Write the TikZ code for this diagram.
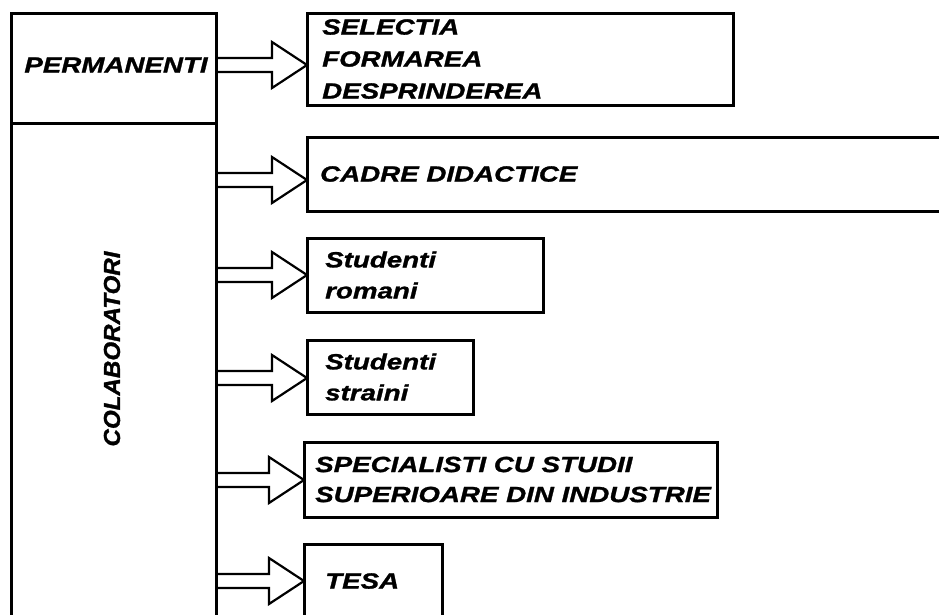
\documentclass[tikz,border=0pt]{standalone}
\usepackage{fontspec}
\newfontfamily\boxfont[FakeStretch=1.26, FakeBold=1.2]{Liberation Sans}
\newfontfamily\sidefont[FakeStretch=1.05, FakeBold=1.2]{Liberation Sans}
\usetikzlibrary{positioning,calc}

\begin{document}
\begin{tikzpicture}[
        x=1pt, y=-1pt,
        box/.style={draw, rectangle, line width=3pt, anchor=north west,
                    inner sep=0pt, outer sep=0pt},
        txt/.style={anchor=west, inner sep=0pt, align=left,
                    font=\fontsize{22}{31}\boxfont\bfseries\itshape},
        hollow/.style={draw, line width=2.2pt, line join=miter,
                    to path={($(\tikztostart)+(0,-7)$) -- ($(\tikztotarget)+(-35,-7)$)
                             -- ($(\tikztotarget)+(-35,-23)$) -- (\tikztotarget)
                             -- ($(\tikztotarget)+(-35,23)$) -- ($(\tikztotarget)+(-35,7)$)
                             -- ($(\tikztostart)+(0,7)$)}}
        ]
        \useasboundingbox (0,0) rectangle (939,614);
        \clip (0,0) rectangle (939,614);

        % left column
        \node[box, minimum width=205pt, minimum height=110pt] (perm) at (11,13) {};
        \node[box, minimum width=205pt, minimum height=517pt] (colab) at (11,123) {};
        \node[txt, anchor=center] at (116,65) {PERMANENTI};
        \node[anchor=center, inner sep=0pt, rotate=90,
              font=\fontsize{23}{26}\sidefont\bfseries\itshape] at (112,349) {COLABORATORI};

        % right boxes
        \node[box, minimum width=426pt, minimum height=92pt] (sel) at (307,13) {};
        \node[box, minimum width=653pt, minimum height=74pt] (cadre) at (307,137) {};
        \node[box, minimum width=236pt, minimum height=74pt] (rom) at (307,238) {};
        \node[box, minimum width=166pt, minimum height=74pt] (str) at (307,340) {};
        \node[box, minimum width=413pt, minimum height=75pt] (spec) at (304,442) {};
        \node[box, minimum width=138pt, minimum height=74pt] (tesa) at (304,544) {};

        \node[txt, right=15pt of sel.west, font=\fontsize{22}{32}\boxfont\bfseries\itshape] {SELECTIA\\FORMAREA\\DESPRINDEREA};
        \node[txt, right=13pt of cadre.west] {CADRE DIDACTICE};
        \node[txt, right=18pt of rom.west] {Studenti\\romani};
        \node[txt, right=18pt of str.west] {Studenti\\straini};
        \node[txt, right=11pt of spec.west, font=\fontsize{22}{30}\boxfont\bfseries\itshape] {SPECIALISTI CU STUDII\\SUPERIOARE DIN INDUSTRIE};
        \node[txt, right=21pt of tesa.west] {TESA};

        % arrows
        \foreach \from/\to/\y in {perm/sel/65, colab/cadre/180, colab/rom/275,
                                  colab/str/378, colab/spec/480, colab/tesa/581} {
            \coordinate (s\to) at (\from.east |- 0,\y);
            \coordinate (t\to) at (\to.west |- 0,\y);
            \path (s\to) edge[hollow] (t\to);
        }
\end{tikzpicture}
\end{document}
